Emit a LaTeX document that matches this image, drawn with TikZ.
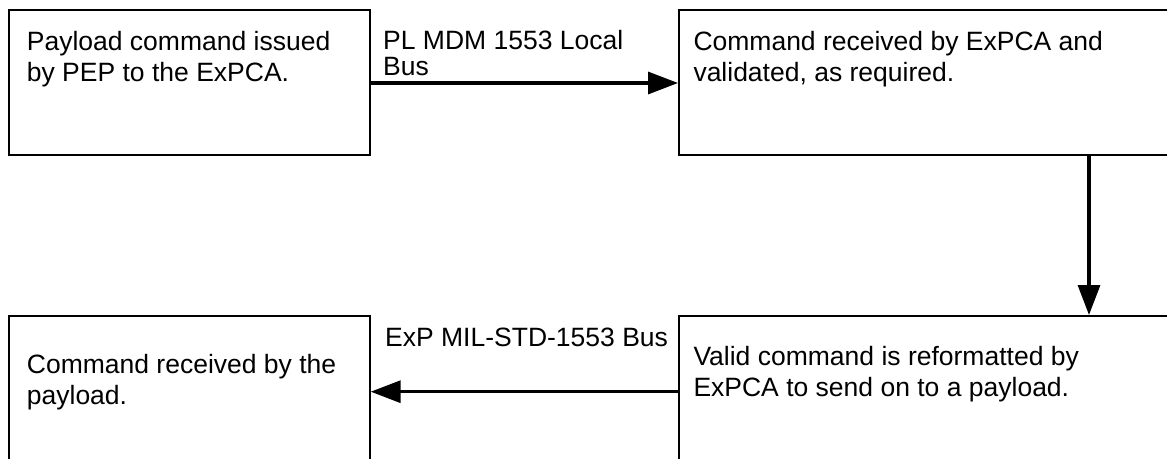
\documentclass[tikz,border=0pt]{standalone}
\usepackage{fontspec}
\setmainfont{Liberation Sans}
\usetikzlibrary{arrows.meta}
\begin{document}
\begin{tikzpicture}[x=1pt,y=-1pt,
  box/.style={draw=black, line width=2pt, rectangle, anchor=north west, inner sep=0pt},
  txt/.style={anchor=north west, inner sep=0pt, align=left,
    font=\fontsize{26.5}{31}\selectfont},
  flow/.style={line width=3.3pt, -{Triangle[length=30pt,width=22pt]}}]
  \useasboundingbox (0,0) rectangle (1167,458);
  \clip (0,0) rectangle (1167,458);
  % process boxes
  \node[box, minimum width=360.7pt, minimum height=144.7pt] (pep) at (8,9) {};
  \node[box, minimum width=540pt, minimum height=144.7pt] (recv) at (678,9) {};
  \node[box, minimum width=540pt, minimum height=200pt] (fmt) at (678,315) {};
  \node[box, minimum width=360.7pt, minimum height=200pt] (pay) at (8,315) {};
  % box texts
  \node[txt] (pepT) at (26.7,31) {Payload command issued\\by PEP to the ExPCA.};
  \node[txt] (recvT) at (693.3,31) {Command received by ExPCA and\\validated, as required.};
  \node[txt] (fmtT) at (693.3,346) {Valid command is reformatted by\\ExPCA to send on to a payload.};
  \node[txt] (payT) at (26.7,354.5) {Command received by the\\payload.};
  % bus labels
  \node[txt, font=\fontsize{26.5}{26}\selectfont] (bus1) at (383,30) {PL MDM 1553 Local\\Bus};
  \node[txt] (bus2) at (385,328) {ExP MIL-STD-1553 Bus};
  % connectors
  \coordinate (r1) at (0,83);
  \coordinate (c1) at (1089,0);
  \coordinate (r2) at (0,391.7);
  \draw[flow] (pep.east |- r1) -- (recv.west |- r1);
  \draw[flow] (recv.south -| c1) -- (fmt.north -| c1);
  \draw[flow] (fmt.west |- r2) -- (pay.east |- r2);
\end{tikzpicture}
\end{document}
